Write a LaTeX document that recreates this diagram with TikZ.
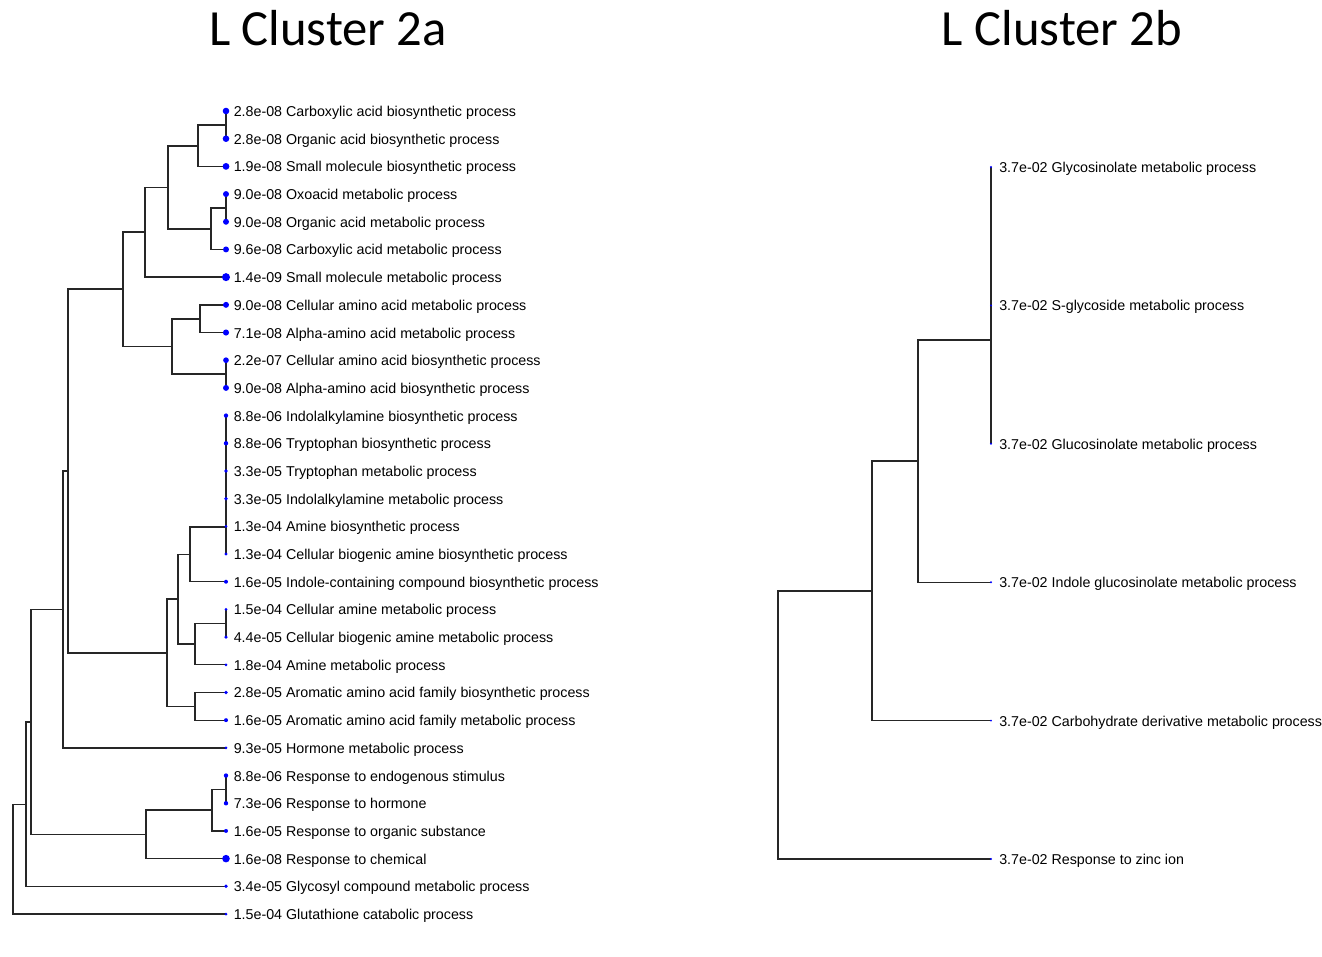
\documentclass[tikz,border=0pt]{standalone}
\usepackage{fontspec}
\setmainfont{Liberation Sans}
\newfontfamily\titlefont{Carlito}
\begin{document}
\begin{tikzpicture}[x=0.75pt,y=-0.75pt,
  edge/.style={draw=black!85,line width=1pt},
  dot/.style={fill=blue,draw=none},
  lab/.style={anchor=base west,inner sep=0pt,font=\fontsize{10.7pt}{12pt}\selectfont},
  ttl/.style={anchor=base,inner sep=0pt,font=\titlefont\fontsize{38pt}{44pt}\selectfont}]
\useasboundingbox (0,0) rectangle (1322,957);

\node[ttl] (title2a) at (328,45) {L Cluster 2a};
\node[ttl] (title2b) at (1062,45) {L Cluster 2b};

% leaves
\foreach \i in {1,...,30} \coordinate (l\i) at (226,{111+(\i-1)*27.69});
\foreach \i in {1,...,6} \coordinate (r\i) at (991,{167+(\i-1)*138.4});

% internal nodes, left tree
\coordinate (A) at (226,125);
\coordinate (B) at (198,146);
\coordinate (C) at (226,208);
\coordinate (D) at (211,229);
\coordinate (E) at (168,187.5);
\coordinate (F) at (145,232);
\coordinate (G) at (200,319);
\coordinate (H) at (226,374);
\coordinate (I) at (172,346.5);
\coordinate (J) at (123,289);
\coordinate (K) at (226,527);
\coordinate (L) at (190,554.5);
\coordinate (M) at (226,623.5);
\coordinate (N) at (195,644);
\coordinate (O) at (178,599);
\coordinate (P) at (195,706.5);
\coordinate (Q) at (167,653);
\coordinate (R) at (68,471);
\coordinate (S) at (63,609.5);
\coordinate (T) at (226,789.5);
\coordinate (U) at (212,810);
\coordinate (V) at (146,834.5);
\coordinate (W) at (31,722);
\coordinate (X) at (26,804.5);
\coordinate (Y) at (13,859);

% internal nodes, right tree
\coordinate (ra0) at (991,236);
\coordinate (ra) at (991,340);
\coordinate (rb) at (918,461);
\coordinate (rc) at (872,591);
\coordinate (rd) at (778,725);

% edges, left tree
\draw[edge] (A) |- (l1) (A) |- (l2);
\draw[edge] (B) |- (A) (B) |- (l3);
\draw[edge] (C) |- (l4) (C) |- (l5);
\draw[edge] (D) |- (C) (D) |- (l6);
\draw[edge] (E) |- (B) (E) |- (D);
\draw[edge] (F) |- (E) (F) |- (l7);
\draw[edge] (G) |- (l8) (G) |- (l9);
\draw[edge] (H) |- (l10) (H) |- (l11);
\draw[edge] (I) |- (G) (I) |- (H);
\draw[edge] (J) |- (F) (J) |- (I);
\draw[edge] (K) |- (l12) (K) |- (l13) (K) |- (l14) (K) |- (l15) (K) |- (l16) (K) |- (l17);
\draw[edge] (L) |- (K) (L) |- (l18);
\draw[edge] (M) |- (l19) (M) |- (l20);
\draw[edge] (N) |- (M) (N) |- (l21);
\draw[edge] (O) |- (L) (O) |- (N);
\draw[edge] (P) |- (l22) (P) |- (l23);
\draw[edge] (Q) |- (O) (Q) |- (P);
\draw[edge] (R) |- (J) (R) |- (Q);
\draw[edge] (S) |- (R) (S) |- (l24);
\draw[edge] (T) |- (l25) (T) |- (l26);
\draw[edge] (U) |- (T) (U) |- (l27);
\draw[edge] (V) |- (U) (V) |- (l28);
\draw[edge] (W) |- (S) (W) |- (V);
\draw[edge] (X) |- (W) (X) |- (l29);
\draw[edge] (Y) |- (X) (Y) |- (l30);

% edges, right tree
\draw[edge] (ra0) |- (r1) (ra0) |- (r2);
\draw[edge] (ra) |- (ra0) (ra) |- (r3);
\draw[edge] (rb) |- (ra) (rb) |- (r4);
\draw[edge] (rc) |- (rb) (rc) |- (r5);
\draw[edge] (rd) |- (rc) (rd) |- (r6);

% dots
\foreach \i/\r in {1/3.3,2/3.3,3/3.4,4/3.0,5/3.0,6/3.0,7/4.0,8/3.0,9/3.06,10/2.85,
  11/3.0,12/2.2,13/2.2,14/1.9,15/1.9,16/1.6,17/1.55,18/2.0,19/1.5,20/1.8,
  21/1.5,22/1.9,23/2.0,24/1.6,25/2.2,26/2.2,27/2.0,28/3.8,29/1.9,30/1.5}
  \fill[dot] (l\i) circle[radius=\r];
\foreach \i in {1,...,6} \fill[dot] (r\i) circle[radius=1.1];

% labels
\foreach \i/\t in {
  1/{2.8e-08 Carboxylic acid biosynthetic process},
  2/{2.8e-08 Organic acid biosynthetic process},
  3/{1.9e-08 Small molecule biosynthetic process},
  4/{9.0e-08 Oxoacid metabolic process},
  5/{9.0e-08 Organic acid metabolic process},
  6/{9.6e-08 Carboxylic acid metabolic process},
  7/{1.4e-09 Small molecule metabolic process},
  8/{9.0e-08 Cellular amino acid metabolic process},
  9/{7.1e-08 Alpha-amino acid metabolic process},
  10/{2.2e-07 Cellular amino acid biosynthetic process},
  11/{9.0e-08 Alpha-amino acid biosynthetic process},
  12/{8.8e-06 Indolalkylamine biosynthetic process},
  13/{8.8e-06 Tryptophan biosynthetic process},
  14/{3.3e-05 Tryptophan metabolic process},
  15/{3.3e-05 Indolalkylamine metabolic process},
  16/{1.3e-04 Amine biosynthetic process},
  17/{1.3e-04 Cellular biogenic amine biosynthetic process},
  18/{1.6e-05 Indole-containing compound biosynthetic process},
  19/{1.5e-04 Cellular amine metabolic process},
  20/{4.4e-05 Cellular biogenic amine metabolic process},
  21/{1.8e-04 Amine metabolic process},
  22/{2.8e-05 Aromatic amino acid family biosynthetic process},
  23/{1.6e-05 Aromatic amino acid family metabolic process},
  24/{9.3e-05 Hormone metabolic process},
  25/{8.8e-06 Response to endogenous stimulus},
  26/{7.3e-06 Response to hormone},
  27/{1.6e-05 Response to organic substance},
  28/{1.6e-08 Response to chemical},
  29/{3.4e-05 Glycosyl compound metabolic process},
  30/{1.5e-04 Glutathione catabolic process}}
  \node[lab] (t\i) at ([shift={(7.5,5.5)}]l\i) {\t};

\foreach \i/\t in {
  1/{3.7e-02 Glycosinolate metabolic process},
  2/{3.7e-02 S-glycoside metabolic process},
  3/{3.7e-02 Glucosinolate metabolic process},
  4/{3.7e-02 Indole glucosinolate metabolic process},
  5/{3.7e-02 Carbohydrate derivative metabolic process},
  6/{3.7e-02 Response to zinc ion}}
  \node[lab] (rt\i) at ([shift={(8,5.5)}]r\i) {\t};
\end{tikzpicture}
\end{document}
